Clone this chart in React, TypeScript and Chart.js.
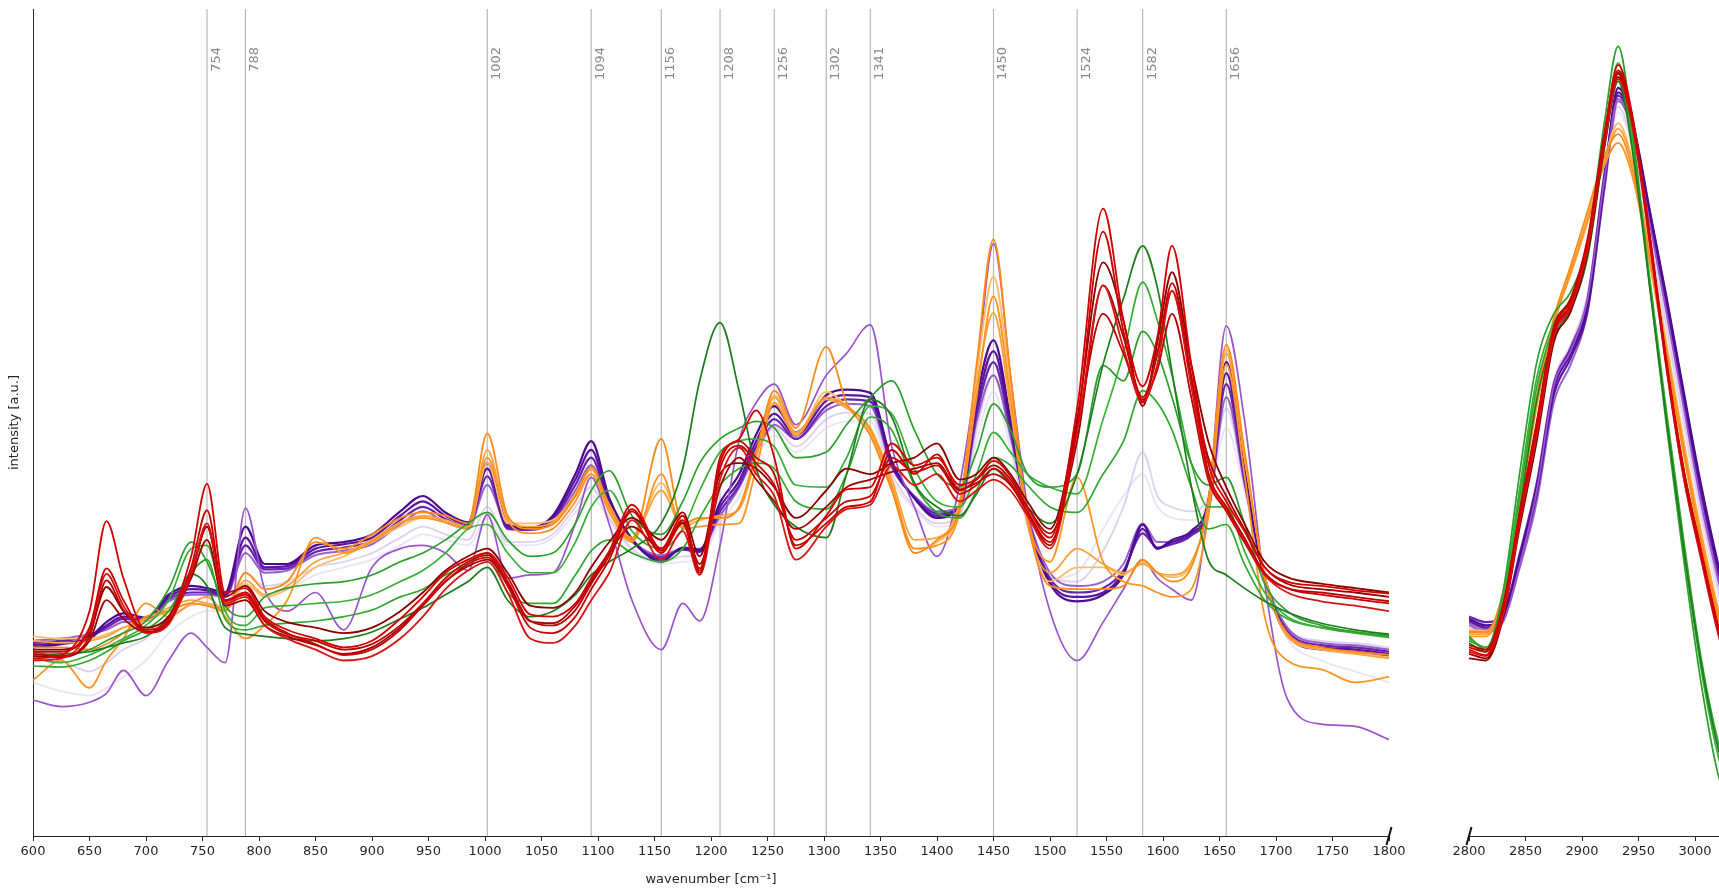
import React, { useEffect, useRef } from "react";
import { Chart, registerables } from "chart.js";

Chart.register(...registerables);

// ---------- axes / categories ----------
const WAVENUMBERS_FP = [600, 625, 650, 665, 680, 700, 720, 740, 754, 770, 788, 805, 825, 850, 875, 900, 925, 945, 965, 985, 1002, 1020, 1040, 1060, 1080, 1094, 1110, 1130, 1156, 1175, 1190, 1208, 1225, 1240, 1256, 1275, 1302, 1320, 1341, 1360, 1380, 1400, 1420, 1435, 1450, 1465, 1480, 1500, 1524, 1547, 1565, 1582, 1595, 1608, 1625, 1640, 1656, 1672, 1690, 1710, 1740, 1770, 1800];
const WAVENUMBERS_CH = [2800, 2815, 2830, 2845, 2860, 2875, 2890, 2905, 2920, 2932, 2945, 2960, 2975, 2990, 3005, 3020, 3035];
const PEAK_POSITIONS = [754, 788, 1002, 1094, 1156, 1208, 1256, 1302, 1341, 1450, 1524, 1582, 1656];
const FP_RANGE = [600, 1800];
const CH_RANGE = [2800, 3050];
const TICK_STEP = 50;
const INTENSITY_RANGE = [0, 754];

// ---------- series values (fingerprint region) ----------
const P1_FP = [172,175,181,195,203,199,220,228,226,222,282,248,248,265,268,275,296,310,295,286,340,284,281,292,330,360,308,271,250,263,261,304,330,366,392,368,402,407,404,342,308,290,302,398,452,380,290,230,214,220,238,284,262,270,278,305,432,335,236,183,170,168,164];
const P2_FP = [174,176,180,192,200,198,218,225,224,220,272,245,246,262,266,272,292,305,292,284,335,282,280,290,325,352,305,270,252,262,260,300,324,360,385,365,397,402,400,340,308,292,300,390,442,375,290,232,218,222,240,280,262,268,276,300,422,330,235,185,172,170,166];
const P3_FP = [176,178,182,190,198,197,216,222,222,219,265,243,244,259,263,269,288,300,289,282,328,280,279,288,320,345,302,269,254,261,259,296,320,355,380,362,392,398,396,338,309,294,299,384,432,370,292,235,222,226,242,276,263,266,274,296,412,325,235,187,174,172,168];
const P4_FP = [178,180,184,188,195,196,214,220,220,218,258,240,242,256,260,266,284,296,286,280,320,282,280,286,315,338,300,270,256,262,262,292,318,350,375,362,388,394,392,336,310,296,300,378,420,365,294,240,228,232,248,285,268,268,275,294,400,322,236,190,176,174,170];
const M1_FP = [124,118,122,130,151,128,160,185,172,158,299,225,205,222,188,245,262,265,258,242,293,235,238,240,285,327,284,215,170,212,196,265,361,395,412,375,420,440,466,355,300,255,320,420,540,420,300,205,160,195,225,252,235,225,215,300,465,380,230,125,102,100,88];
const L1_FP = [165,160,150,158,170,180,200,210,212,210,240,228,232,245,250,258,272,282,275,270,300,268,268,275,300,318,290,262,250,255,256,290,318,350,372,355,380,386,385,330,300,285,292,370,420,360,285,236,232,260,300,350,310,300,296,310,390,320,235,190,178,176,172];
const L2_FP = [140,132,128,135,145,160,185,200,205,205,228,220,225,238,245,252,265,275,270,265,290,265,265,272,295,310,288,260,248,250,252,285,310,345,365,350,372,378,378,325,298,282,290,360,405,352,282,235,240,280,310,330,300,290,288,305,372,315,232,180,160,150,140];
const O1_FP = [172,172,170,175,185,200,205,212,210,205,240,225,232,268,262,275,290,295,292,285,367,292,280,284,310,336,300,270,362,285,290,290,300,350,406,372,446,395,365,315,258,270,300,430,544,420,290,228,225,225,228,252,240,232,245,305,448,352,235,185,172,168,165];
const O2_FP = [142,160,135,160,180,212,200,212,218,200,180,192,215,272,258,268,285,290,286,280,345,288,276,280,305,330,295,268,330,280,282,284,285,335,395,365,400,392,370,320,262,265,295,400,492,400,290,250,327,250,232,228,222,218,225,290,430,330,200,160,152,140,145];
const O3_FP = [178,176,178,182,190,198,208,215,212,208,233,220,228,250,258,270,286,292,288,282,352,290,282,286,312,334,302,272,315,282,288,292,298,345,400,368,398,390,372,325,270,272,305,410,477,390,285,240,262,248,240,248,240,238,250,300,440,345,238,182,170,166,162];
const O4_FP = [182,180,180,184,190,196,205,212,210,206,230,218,225,245,255,268,282,290,286,280,340,285,285,288,310,330,298,270,322,284,290,290,300,348,402,366,405,392,368,318,262,268,300,420,510,410,288,232,245,245,238,250,240,236,248,302,444,348,236,184,171,167,163];
const G1_FP = [168,164,170,178,185,196,225,268,250,210,200,218,226,230,232,238,250,258,270,285,295,270,255,258,285,315,333,292,275,305,340,362,372,378,372,345,350,375,400,415,370,330,318,350,394,370,330,318,330,429,415,460,440,400,340,320,327,285,230,205,192,186,182];
const G2_FP = [162,158,165,172,180,192,215,262,265,205,192,208,210,212,214,220,232,242,258,280,284,258,240,240,268,300,315,278,262,280,315,350,360,362,355,320,318,345,392,385,335,305,300,330,368,350,330,318,312,380,440,505,470,420,340,300,300,260,222,200,190,185,181];
const G3_FP = [155,154,160,168,178,188,205,240,252,198,188,192,194,196,200,206,218,225,238,248,258,222,212,212,238,260,270,258,250,262,290,320,335,340,335,305,298,330,382,370,320,295,290,315,345,338,320,300,295,330,360,406,395,370,318,280,284,248,215,198,190,186,183];
const GD_FP = [165,166,168,172,176,182,200,239,228,190,184,182,180,178,180,186,198,208,220,232,245,215,200,205,220,238,250,262,285,335,415,468,405,335,302,282,272,330,398,382,322,300,292,312,335,320,300,285,330,430,490,538,500,423,319,252,238,226,214,204,194,188,184];
const R1_FP = [162,165,205,287,235,188,198,255,321,222,226,200,188,180,172,178,198,218,240,252,258,236,202,200,212,235,260,302,262,292,242,345,362,388,345,262,292,316,318,358,338,345,320,326,342,328,300,272,390,572,470,410,455,538,430,340,305,278,245,232,228,224,221];
const R2_FP = [168,168,190,244,215,186,195,245,297,215,222,198,185,175,165,170,188,210,232,248,254,228,190,185,200,225,252,296,258,285,240,335,356,340,320,270,290,305,310,345,332,338,312,320,335,322,296,268,375,551,460,400,440,504,420,332,300,272,240,226,220,216,212];
const R3_FP = [160,162,188,239,210,185,193,240,285,212,218,192,180,170,160,164,180,200,225,242,250,222,180,176,192,215,240,288,252,278,238,325,354,330,310,252,282,298,302,338,320,330,305,315,325,315,292,262,368,502,445,395,430,497,410,328,298,270,238,222,214,210,205];
const R4_FP = [166,164,182,233,206,188,196,238,282,214,220,196,184,178,170,175,192,212,235,250,256,232,196,192,206,230,256,298,260,288,244,340,360,345,330,265,285,300,305,352,330,348,316,322,330,320,295,265,372,476,440,398,425,476,400,325,296,268,238,226,222,218,214];
const DR1_FP = [170,170,185,227,205,190,200,240,282,218,228,205,195,190,185,190,205,222,242,255,262,240,210,208,222,245,268,290,270,295,255,330,340,335,318,290,315,335,330,340,345,358,325,330,345,330,305,280,380,523,470,392,450,514,430,360,318,285,250,236,230,226,222];
const DR2_FP = [164,163,178,215,198,186,195,235,270,210,215,192,182,174,166,172,190,210,232,246,252,230,196,194,210,232,258,282,262,286,248,318,345,325,305,280,300,318,325,332,335,340,315,325,338,325,300,276,360,502,455,396,440,497,415,345,310,280,245,230,225,222,218];

// ---------- series values (CH stretching region) ----------
const P1_CH = [198,192,200,255,318,408,440,485,600,682,650,570,490,405,322,250,190];
const P2_CH = [196,190,198,250,312,402,436,480,595,678,648,568,488,402,318,246,186];
const P3_CH = [200,195,202,258,322,412,445,490,605,675,645,565,485,398,315,244,184];
const P4_CH = [194,188,196,245,305,395,430,478,590,670,642,562,482,396,312,240,180];
const M1_CH = [192,186,195,248,315,410,442,490,600,672,640,558,475,390,305,235,175];
const L1_CH = [190,186,196,252,320,415,448,495,600,665,630,548,465,380,298,228,170];
const L2_CH = [188,184,194,250,318,412,446,492,596,660,625,542,458,372,290,220,162];
const O1_CH = [186,186,222,312,402,472,520,570,620,640,606,528,440,352,272,204,150];
const O2_CH = [182,182,215,300,392,465,515,562,612,632,600,522,435,348,268,200,148];
const O3_CH = [184,184,218,305,395,468,512,560,615,645,612,532,445,358,278,208,154];
const O4_CH = [188,187,220,308,398,470,515,565,618,650,615,535,448,360,280,210,156];
const G1_CH = [182,170,222,332,432,476,496,542,652,720,640,500,372,252,142,58,12];
const G2_CH = [180,172,215,318,418,468,490,535,640,705,632,505,380,262,155,75,25];
const G3_CH = [178,172,212,310,410,462,485,530,632,695,628,508,385,270,165,88,38];
const GD_CH = [176,168,205,298,398,455,480,528,628,688,622,500,378,262,160,82,30];
const R1_CH = [170,165,205,290,372,460,485,540,640,703,655,548,432,335,262,192,138];
const R2_CH = [172,168,208,294,376,462,488,542,638,695,650,545,428,330,258,190,136];
const R3_CH = [168,164,200,286,366,455,482,535,632,690,645,540,424,326,254,186,132];
const R4_CH = [174,170,210,295,378,464,490,545,642,698,652,546,430,334,262,194,140];
const DR1_CH = [162,160,198,282,360,450,478,532,630,692,648,542,426,328,256,188,134];
const DR2_CH = [166,162,202,288,368,458,484,538,636,696,650,544,428,330,258,190,136];

// ---------- styles (drawn top first) ----------
const SERIES = [
  { fp: R1_FP, ch: R1_CH, color: "#d40000", width: 1.8 },
  { fp: R2_FP, ch: R2_CH, color: "#c70000", width: 1.8 },
  { fp: R3_FP, ch: R3_CH, color: "#d81414", width: 1.8 },
  { fp: R4_FP, ch: R4_CH, color: "#bf0000", width: 1.8 },
  { fp: DR1_FP, ch: DR1_CH, color: "#8b0000", width: 1.8 },
  { fp: DR2_FP, ch: DR2_CH, color: "#a00000", width: 1.8 },
  { fp: GD_FP, ch: GD_CH, color: "#1d7d1d", width: 1.7 },
  { fp: G1_FP, ch: G1_CH, color: "#2ca02c", width: 1.7 },
  { fp: G2_FP, ch: G2_CH, color: "#38b038", width: 1.7 },
  { fp: G3_FP, ch: G3_CH, color: "#30a830", width: 1.7 },
  { fp: O1_FP, ch: O1_CH, color: "#ff8c1a", width: 1.8 },
  { fp: O2_FP, ch: O2_CH, color: "#ff9526", width: 1.8 },
  { fp: O3_FP, ch: O3_CH, color: "#ffa43d", width: 1.8 },
  { fp: O4_FP, ch: O4_CH, color: "#ffbb66", width: 1.8 },
  { fp: M1_FP, ch: M1_CH, color: "#9b55cc", width: 1.7 },
  { fp: P1_FP, ch: P1_CH, color: "#4b0c8f", width: 2.2 },
  { fp: P2_FP, ch: P2_CH, color: "#5a14a0", width: 2.2 },
  { fp: P3_FP, ch: P3_CH, color: "#6a22b0", width: 2.2 },
  { fp: P4_FP, ch: P4_CH, color: "rgba(134,71,196,0.85)", width: 2 },
  { fp: L1_FP, ch: L1_CH, color: "rgba(200,175,228,0.6)", width: 1.8 },
  { fp: L2_FP, ch: L2_CH, color: "rgba(215,200,235,0.5)", width: 1.8 },
];

const FONT = '"DejaVu Sans", sans-serif';
const TEXT = "#262626";

function makeDatasets(region: "fp" | "ch") {
  const xs = region === "fp" ? WAVENUMBERS_FP : WAVENUMBERS_CH;
  return SERIES.map((s, k) => ({
    label: "s" + k,
    data: xs.map((x, i) => ({ x, y: (region === "fp" ? s.fp : s.ch)[i] })),
    borderColor: s.color,
    backgroundColor: s.color,
    borderWidth: s.width,
    pointRadius: 0,
    fill: false,
    cubicInterpolationMode: "monotone" as const,
  }));
}

const peakPlugin = {
  id: "peakLines",
  beforeDatasetsDraw(chart: any) {
    const { ctx, chartArea, scales } = chart;
    ctx.save();
    ctx.strokeStyle = "#b8b8b8";
    ctx.lineWidth = 1.2;
    PEAK_POSITIONS.forEach((p) => {
      const x = scales.x.getPixelForValue(p);
      ctx.beginPath();
      ctx.moveTo(x, chartArea.top);
      ctx.lineTo(x, chartArea.bottom);
      ctx.stroke();
    });
    ctx.fillStyle = "#8a8a8a";
    ctx.font = `13px ${FONT}`;
    ctx.textAlign = "right";
    ctx.textBaseline = "middle";
    PEAK_POSITIONS.forEach((p) => {
      const x = scales.x.getPixelForValue(p);
      ctx.save();
      ctx.translate(x + 9.5, chartArea.top + 38);
      ctx.rotate(-Math.PI / 2);
      ctx.fillText(String(p), 0, 0);
      ctx.restore();
    });
    ctx.restore();
  },
};

function breakPlugin(side: "left" | "right") {
  return {
    id: "break_" + side,
    afterDraw(chart: any) {
      const { ctx, chartArea } = chart;
      const x = side === "right" ? chartArea.right : chartArea.left;
      const y = chartArea.bottom;
      ctx.save();
      ctx.strokeStyle = "#111";
      ctx.lineWidth = 2;
      ctx.beginPath();
      ctx.moveTo(x - 2.5, y + 9);
      ctx.lineTo(x + 2.5, y - 9);
      ctx.stroke();
      ctx.restore();
    },
  };
}

function xScale(range: number[], title: boolean) {
  return {
    type: "linear" as const,
    min: range[0],
    max: range[1],
    afterFit: (s: any) => {
      s.height = 52;
    },
    ticks: {
      stepSize: TICK_STEP,
      color: TEXT,
      font: { family: FONT, size: 13 },
      padding: 3,
      maxRotation: 0,
      autoSkip: false,
      callback: (v: any) => String(v),
    },
    grid: { display: true, drawOnChartArea: false, drawTicks: true, tickLength: 5, color: TEXT, lineWidth: 1 },
    border: { display: true, color: TEXT, width: 1 },
    title: {
      display: title,
      text: "wavenumber [cm⁻¹]",
      color: TEXT,
      font: { family: FONT, size: 13 },
      padding: { top: 0, bottom: 1 },
    },
  };
}

export default function App() {
  const leftRef = useRef<HTMLCanvasElement>(null);
  const rightRef = useRef<HTMLCanvasElement>(null);

  useEffect(() => {
    Chart.defaults.font.family = FONT;
    const c1 = new Chart(leftRef.current as HTMLCanvasElement, {
      type: "line",
      data: { datasets: makeDatasets("fp") as any },
      options: {
        animation: false,
        responsive: false,
        devicePixelRatio: 1,
        layout: { padding: { top: 9, right: 51, left: 0, bottom: 0 } },
        plugins: { legend: { display: false }, tooltip: { enabled: false } },
        scales: {
          x: xScale(FP_RANGE, true) as any,
          y: {
            min: INTENSITY_RANGE[0],
            max: INTENSITY_RANGE[1],
            afterFit: (s: any) => {
              s.width = 33;
            },
            ticks: { display: false },
            grid: { display: false, drawTicks: false },
            border: { display: true, color: TEXT, width: 1 },
            title: {
              display: true,
              text: "intensity [a.u.]",
              color: TEXT,
              font: { family: FONT, size: 13 },
              padding: { top: 7, bottom: 0 },
            },
          },
        },
      },
      plugins: [peakPlugin, breakPlugin("right")],
    });
    const c2 = new Chart(rightRef.current as HTMLCanvasElement, {
      type: "line",
      data: { datasets: makeDatasets("ch") as any },
      options: {
        animation: false,
        responsive: false,
        devicePixelRatio: 1,
        layout: { padding: { top: 9, right: 68.5, left: 49, bottom: 0 } },
        plugins: { legend: { display: false }, tooltip: { enabled: false } },
        scales: {
          x: xScale(CH_RANGE, false) as any,
          y: { display: false, min: INTENSITY_RANGE[0], max: INTENSITY_RANGE[1] },
        },
      },
      plugins: [breakPlugin("left")],
    });
    return () => {
      c1.destroy();
      c2.destroy();
    };
  }, []);

  return (
    <div style={{ position: "fixed", left: 0, top: 0, width: 1719, height: 888, overflow: "hidden", background: "#fff" }}>
      <canvas ref={leftRef} width={1440} height={888} style={{ position: "absolute", left: 0, top: 0, width: 1440, height: 888 }} />
      <canvas ref={rightRef} width={400} height={888} style={{ position: "absolute", left: 1420, top: 0, width: 400, height: 888 }} />
    </div>
  );
}
